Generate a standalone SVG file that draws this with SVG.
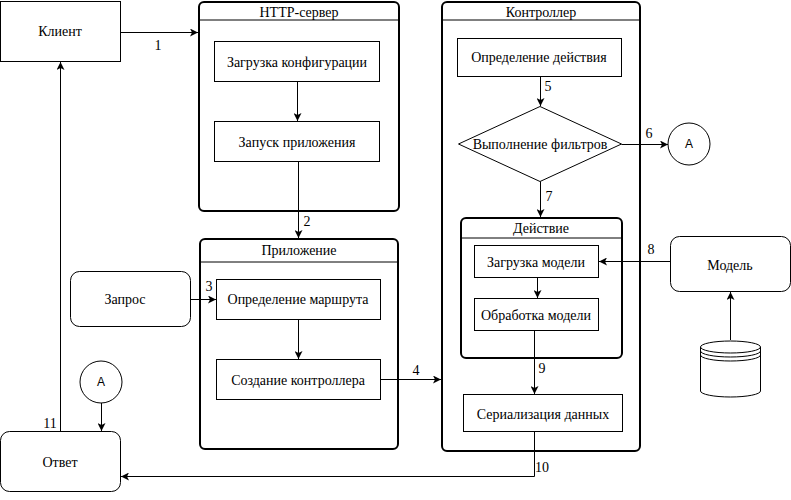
<svg xmlns="http://www.w3.org/2000/svg" width="791" height="500" viewBox="0 0 791 500">
<style>
.b{fill:#fff;stroke:#000;stroke-width:1}
.c{fill:#fff;stroke:#000;stroke-width:2}
.l{fill:none;stroke:#000;stroke-width:1}
.t{font-family:"Liberation Serif","Times New Roman",serif;font-size:14px;fill:#000;text-anchor:middle;dominant-baseline:central}
.s{font-family:"Liberation Sans",Arial,sans-serif;font-size:12px;fill:#000;text-anchor:middle;dominant-baseline:central}
</style>
<defs>
<marker id="a" viewBox="0 0 10 10" refX="10" refY="5" markerWidth="8" markerHeight="8" markerUnits="userSpaceOnUse" orient="auto">
<path d="M0,0 L10,5 L0,10 L2.5,5 Z" fill="#000"/>
</marker>
</defs>
<rect width="791" height="500" fill="#fff"/>
<g id="client"><rect class="b" x="0.5" y="1.5" width="120" height="60"/><text class="t" x="60" y="31">Клиент</text></g>
<g id="http">
<rect class="c" x="199" y="2" width="200" height="209" rx="5"/>
<line class="l" x1="199" y1="20" x2="399" y2="20"/>
<text class="t" x="299" y="12">HTTP-сервер</text>
</g>
<g id="load-config"><rect class="b" x="214.5" y="41.5" width="165" height="40"/><text class="t" x="297" y="62">Загрузка конфигурации</text></g>
<g id="start-app"><rect class="b" x="214.5" y="121.5" width="165" height="40"/><text class="t" x="297" y="142">Запуск приложения</text></g>
<g id="app">
<rect class="c" x="200" y="239" width="198" height="210" rx="5"/>
<line class="l" x1="200" y1="262" x2="398" y2="262"/>
<text class="t" x="299" y="250">Приложение</text>
</g>
<g id="request"><rect class="b" x="70.5" y="271.5" width="120" height="55" rx="9"/><text class="t" x="125" y="299">Запрос</text></g>
<g id="route"><rect class="b" x="216.5" y="279.5" width="164" height="40"/><text class="t" x="298" y="299">Определение маршрута</text></g>
<g id="create-ctrl"><rect class="b" x="216.5" y="359.5" width="164" height="40"/><text class="t" x="298" y="380">Создание контроллера</text></g>
<g id="controller">
<rect class="c" x="442" y="2" width="198" height="449" rx="5"/>
<line class="l" x1="442" y1="20" x2="640" y2="20"/>
<text class="t" x="541" y="12">Контроллер</text>
</g>
<g id="define-action"><rect class="b" x="457.5" y="38.5" width="164" height="38"/><text class="t" x="539" y="57">Определение действия</text></g>
<g id="filters"><path class="b" d="M540,106.5 L621.5,144 L540,181.5 L458.5,144 Z"/><text class="t" x="540" y="144">Выполнение фильтров</text></g>
<g id="a-top"><circle class="b" cx="689" cy="144" r="21"/><text class="s" x="689" y="144">A</text></g>
<g id="action">
<rect class="c" x="461" y="218" width="161" height="140" rx="5"/>
<line class="l" x1="461" y1="238" x2="622" y2="238"/>
<text class="t" x="541" y="228">Действие</text>
</g>
<g id="load-model"><rect class="b" x="474.5" y="245.5" width="124" height="32"/><text class="t" x="536" y="262">Загрузка модели</text></g>
<g id="process-model"><rect class="b" x="474.5" y="298.5" width="124" height="32"/><text class="t" x="536" y="315">Обработка модели</text></g>
<g id="serialize"><rect class="b" x="463.5" y="394.5" width="159" height="37"/><text class="t" x="543" y="414">Сериализация данных</text></g>
<g id="model"><rect class="b" x="670.5" y="236.5" width="120" height="55" rx="9"/><text class="t" x="730" y="265">Модель</text></g>
<g id="db">
<path class="b" d="M700.5,347 A30,6 0 0 1 760.5,347 L760.5,391 A30,6 0 0 1 700.5,391 Z"/>
<path class="l" d="M700.5,347 A30,6 0 0 0 760.5,347 M700.5,351 A30,6 0 0 0 760.5,351 M700.5,355 A30,6 0 0 0 760.5,355"/>
</g>
<g id="a-bottom"><circle class="b" cx="101" cy="382" r="21"/><text class="s" x="101" y="382">A</text></g>
<g id="response"><rect class="b" x="0.5" y="431.5" width="120" height="60" rx="9"/><text class="t" x="60" y="462">Ответ</text></g>
<g id="connectors">
<path class="l" d="M120.5,32.5 H198" marker-end="url(#a)"/>
<text class="t" x="158" y="45">1</text>
<path class="l" d="M297.5,81.5 V121" marker-end="url(#a)"/>
<path class="l" d="M298.5,161.5 V238" marker-end="url(#a)"/>
<text class="t" x="307" y="221">2</text>
<path class="l" d="M190.5,299.5 H216" marker-end="url(#a)"/>
<text class="t" x="209" y="286">3</text>
<path class="l" d="M298.5,319.5 V359" marker-end="url(#a)"/>
<path class="l" d="M380.5,379.5 H441" marker-end="url(#a)"/>
<text class="t" x="416" y="370">4</text>
<path class="l" d="M540.5,76.5 V106" marker-end="url(#a)"/>
<text class="t" x="548" y="86">5</text>
<path class="l" d="M621.5,144.5 H668" marker-end="url(#a)"/>
<text class="t" x="649" y="133">6</text>
<path class="l" d="M540.5,181.5 V217" marker-end="url(#a)"/>
<text class="t" x="549" y="196">7</text>
<path class="l" d="M670.5,261.5 H599" marker-end="url(#a)"/>
<text class="t" x="651" y="249">8</text>
<path class="l" d="M537.5,277.5 V298" marker-end="url(#a)"/>
<path class="l" d="M534.5,330.5 V394" marker-end="url(#a)"/>
<text class="t" x="542" y="368">9</text>
<path class="l" d="M534.5,431.5 V476.5 H121" marker-end="url(#a)"/>
<text class="t" x="542" y="467">10</text>
<path class="l" d="M730.5,340 V292" marker-end="url(#a)"/>
<path class="l" d="M101.5,403 V431" marker-end="url(#a)"/>
<path class="l" d="M60.5,431 V62" marker-end="url(#a)"/>
<text class="t" x="50" y="423">11</text>
</g>
</svg>
